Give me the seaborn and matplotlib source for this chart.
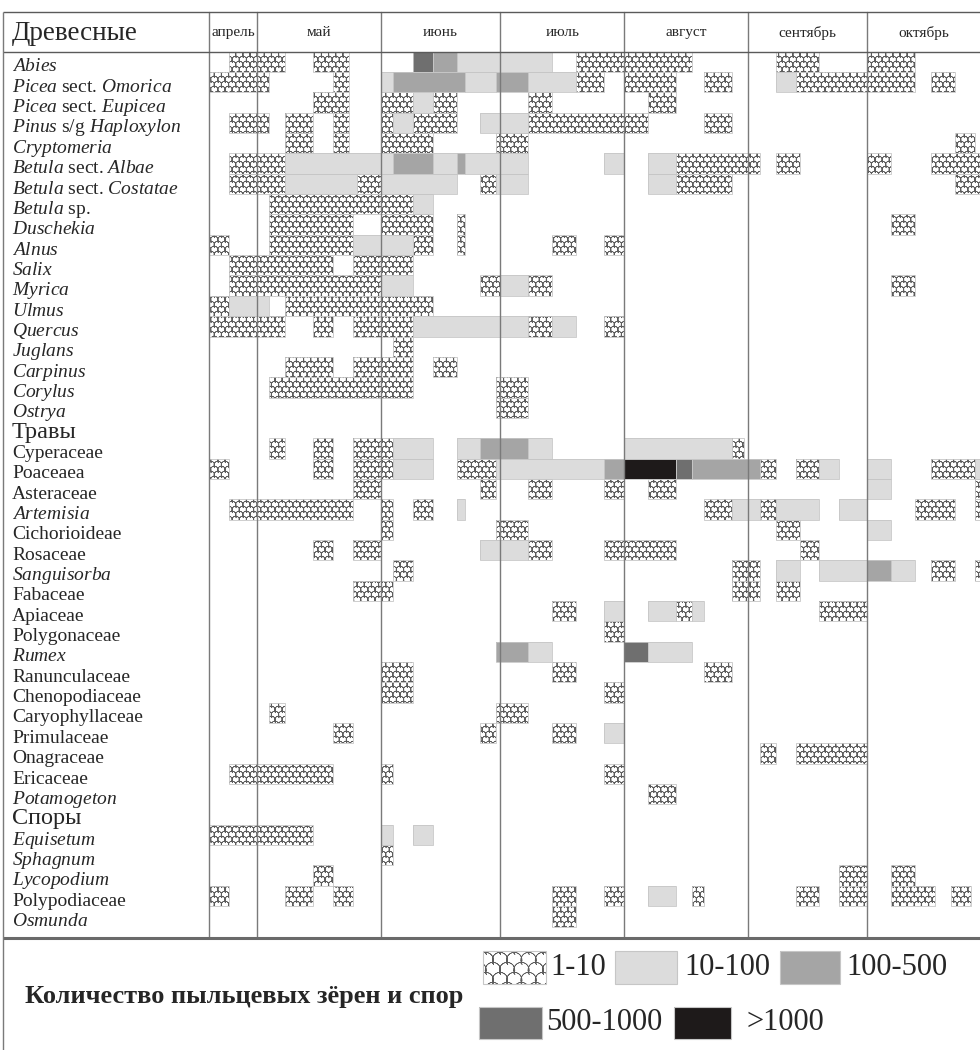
import numpy as np
import pandas as pd
import matplotlib
matplotlib.use("Agg")
import matplotlib.pyplot as plt
import matplotlib.hatch as mhatch
from matplotlib.path import Path
from matplotlib.colors import ListedColormap
from matplotlib.patches import Rectangle
from matplotlib.transforms import blended_transform_factory
import seaborn as sns

# ---------------------------------------------------------------- data
# x axis: days counted from 19 April (first day shown)
MONTHS = ["апрель", "май", "июнь", "июль", "август", "сентябрь", "октябрь"]
MONTH_LEN = [12, 31, 30, 31, 31, 30, 31]
N_DAYS = 194
X_END = 193.3

HEAD_TREES = "Древесные"
HEAD_HERBS = "Травы"
HEAD_SPORES = "Споры"

CLASS_LABELS = ["1-10", "10-100", "100-500", "500-1000", ">1000"]
LEGEND_TITLE = "Количество пыльцевых зёрен и спор"

# pollen class per period: 1 = 1-10, 2 = 10-100, 3 = 100-500, 4 = 500-1000, 5 = >1000
TREES = [r"$\mathit{Abies}$", r"$\mathit{Picea}$ sect. $\mathit{Omorica}$",
         r"$\mathit{Picea}$ sect. $\mathit{Eupicea}$", r"$\mathit{Pinus}$ s/g $\mathit{Haploxylon}$",
         r"$\mathit{Cryptomeria}$", r"$\mathit{Betula}$ sect. $\mathit{Albae}$",
         r"$\mathit{Betula}$ sect. $\mathit{Costatae}$", r"$\mathit{Betula}$ sp.",
         r"$\mathit{Duschekia}$", r"$\mathit{Alnus}$", r"$\mathit{Salix}$", r"$\mathit{Myrica}$",
         r"$\mathit{Ulmus}$", r"$\mathit{Quercus}$", r"$\mathit{Juglans}$", r"$\mathit{Carpinus}$",
         r"$\mathit{Corylus}$", r"$\mathit{Ostrya}$"]
TREE_SEGS = [
    [(5, 19, 1), (26, 35, 1), (51, 56, 4), (56, 62, 3), (62, 86, 2), (92, 121, 1), (142, 153, 1), (165, 177, 1)],
    [(0, 15, 1), (31, 35, 1), (43, 46, 2), (46, 64, 3), (64, 72, 2), (72, 80, 3), (80, 92, 2), (92, 99, 1),
     (104, 117, 1), (124, 131, 1), (142, 147, 2), (147, 177, 1), (181, 187, 1)],
    [(26, 35, 1), (43, 51, 1), (51, 56, 2), (56, 62, 1), (80, 86, 1), (110, 117, 1)],
    [(5, 15, 1), (19, 26, 1), (31, 35, 1), (43, 46, 1), (46, 51, 2), (51, 62, 1), (68, 80, 2), (80, 110, 1),
     (124, 131, 1)],
    [(19, 26, 1), (31, 35, 1), (43, 56, 1), (72, 80, 1), (187, 192, 1)],
    [(5, 19, 1), (19, 46, 2), (46, 56, 3), (56, 62, 2), (62, 64, 3), (64, 80, 2), (99, 104, 2), (110, 117, 2),
     (117, 138, 1), (142, 148, 1), (165, 171, 1), (181, 194, 1)],
    [(5, 19, 1), (19, 37, 2), (37, 43, 1), (43, 62, 2), (68, 72, 1), (72, 80, 2), (110, 117, 2), (117, 131, 1),
     (187, 194, 1)],
    [(15, 51, 1), (51, 56, 2)],
    [(15, 36, 1), (43, 56, 1), (62, 64, 1), (171, 177, 1)],
    [(0, 5, 1), (15, 36, 1), (36, 51, 2), (51, 56, 1), (62, 64, 1), (86, 92, 1), (99, 104, 1)],
    [(5, 31, 1), (36, 51, 1)],
    [(5, 43, 1), (43, 51, 2), (68, 73, 1), (73, 80, 2), (80, 86, 1), (171, 177, 1)],
    [(0, 5, 1), (5, 15, 2), (19, 56, 1)],
    [(0, 19, 1), (26, 31, 1), (36, 51, 1), (51, 80, 2), (80, 86, 1), (86, 92, 2), (99, 104, 1)],
    [(46, 51, 1)],
    [(19, 31, 1), (36, 51, 1), (56, 62, 1)],
    [(15, 51, 1), (72, 80, 1)],
    [(72, 80, 1)],
]

HERBS = ["Cyperaceae", "Poaceaea", "Asteraceae", r"$\mathit{Artemisia}$", "Cichorioideae", "Rosaceae",
         r"$\mathit{Sanguisorba}$", "Fabaceae", "Apiaceae", "Polygonaceae", r"$\mathit{Rumex}$",
         "Ranunculaceae", "Chenopodiaceae", "Caryophyllaceae", "Primulaceae", "Onagraceae", "Ericaceae",
         r"$\mathit{Potamogeton}$"]
HERB_SEGS = [
    [(15, 19, 1), (26, 31, 1), (36, 46, 1), (46, 56, 2), (62, 68, 2), (68, 80, 3), (80, 86, 2), (104, 131, 2),
     (131, 134, 1)],
    [(0, 5, 1), (26, 31, 1), (36, 46, 1), (46, 56, 2), (62, 72, 1), (72, 99, 2), (99, 104, 3), (104, 117, 5),
     (117, 121, 4), (121, 138, 3), (138, 142, 1), (147, 153, 1), (153, 158, 2), (165, 171, 2), (181, 192, 1),
     (192, 194, 2)],
    [(36, 43, 1), (68, 72, 1), (80, 86, 1), (99, 104, 1), (110, 117, 1), (165, 171, 2), (192, 194, 1)],
    [(5, 36, 1), (43, 46, 1), (51, 56, 1), (62, 64, 2), (124, 131, 1), (131, 138, 2), (138, 142, 1),
     (142, 153, 2), (158, 165, 2), (177, 187, 1), (192, 194, 1)],
    [(43, 46, 1), (72, 80, 1), (142, 148, 1), (165, 171, 2)],
    [(26, 31, 1), (36, 43, 1), (68, 80, 2), (80, 86, 1), (99, 117, 1), (148, 153, 1)],
    [(46, 51, 1), (131, 138, 1), (142, 148, 2), (153, 165, 2), (165, 171, 3), (171, 177, 2), (181, 187, 1),
     (192, 194, 1)],
    [(36, 46, 1), (131, 138, 1), (142, 148, 1)],
    [(86, 92, 1), (99, 104, 2), (110, 117, 2), (117, 121, 1), (121, 124, 2), (153, 165, 1)],
    [(99, 104, 1)],
    [(72, 80, 3), (80, 86, 2), (104, 110, 4), (110, 121, 2)],
    [(43, 51, 1), (86, 92, 1), (124, 131, 1)],
    [(43, 51, 1), (99, 104, 1)],
    [(15, 19, 1), (72, 80, 1)],
    [(31, 36, 1), (68, 72, 1), (86, 92, 1), (99, 104, 2)],
    [(138, 142, 1), (147, 165, 1)],
    [(5, 31, 1), (43, 46, 1), (99, 104, 1)],
    [(110, 117, 1)],
]

SPORES = [r"$\mathit{Equisetum}$", r"$\mathit{Sphagnum}$", r"$\mathit{Lycopodium}$", "Polypodiaceae",
          r"$\mathit{Osmunda}$"]
SPORE_SEGS = [
    [(0, 26, 1), (43, 46, 2), (51, 56, 2)],
    [(43, 46, 1)],
    [(26, 31, 1), (158, 165, 1), (171, 177, 1)],
    [(0, 5, 1), (19, 26, 1), (31, 36, 1), (86, 92, 1), (99, 104, 1), (110, 117, 2), (121, 124, 1),
     (147, 153, 1), (158, 165, 1), (171, 182, 1), (186, 191, 1)],
    [(86, 92, 1)],
]

# ---------------------------------------------------------------- style
GRAYS = ["#dcdcdc", "#a5a5a5", "#6f6f6f", "#1e1a1a"]
HATCH_C = "#5c5c5c"
EDGE_C = "#c6c6c6"
LINE_C = "#7a7a7a"

sns.set_style("white")
plt.rcParams.update({
    "font.family": ["Liberation Serif", "DejaVu Serif"],
    "mathtext.fontset": "custom",
    "mathtext.rm": "Liberation Serif",
    "mathtext.it": "Liberation Serif:italic",
    "mathtext.bf": "Liberation Serif:bold",
    "hatch.linewidth": 0.45,
    "hatch.color": HATCH_C,
})


class ScaleHatch(mhatch.HatchPatternBase):
    """Fish-scale arcs in staggered rows, selected with the 'O' hatch symbol.

    Each arc is traced forward and back over the same points, so the
    filled area is empty and only the stroke shows.
    """
    n_arc = 12

    def __init__(self, hatch, density):
        k = hatch.count("O")
        self.cols = 7 * k
        self.rows = 10 * k
        self.num_vertices = 0 if k == 0 else (self.cols + 2) * (self.rows + 2) * self.n_arc * 2

    def set_vertices_and_codes(self, vertices, codes):
        w = 1.0 / self.cols
        h = 1.0 / self.rows
        r = 0.54 * w
        t = np.linspace(np.radians(-28), np.radians(208), self.n_arc)
        arc = np.column_stack([r * np.cos(t), r * np.sin(t)])
        arc = np.vstack([arc, arc[::-1]])
        n = len(arc)
        k = 0
        for j in range(-1, self.rows + 1):
            shift = 0.5 * w * (j % 2)
            for i in range(-1, self.cols + 1):
                vertices[k:k + n] = arc + (i * w + shift, j * h)
                codes[k] = Path.MOVETO
                codes[k + 1:k + n] = Path.LINETO
                k += n


mhatch._hatch_types = [t for t in mhatch._hatch_types if t is not mhatch.LargeCircles] + [ScaleHatch]

# ---------------------------------------------------------------- table of rows
row_labels, row_segs, row_head = [], [], []
for head, names, segs in [(None, TREES, TREE_SEGS), (HEAD_HERBS, HERBS, HERB_SEGS),
                          (HEAD_SPORES, SPORES, SPORE_SEGS)]:
    if head:
        row_labels.append(head)
        row_segs.append([])
        row_head.append(True)
    for name, s in zip(names, segs):
        row_labels.append(name)
        row_segs.append(s)
        row_head.append(False)
n_rows = len(row_labels)

level = np.zeros((n_rows, N_DAYS), dtype=int)
for r, segs in enumerate(row_segs):
    for a, b, v in segs:
        level[r, a:b] = v
level_df = pd.DataFrame(level, index=range(n_rows), columns=range(N_DAYS))

# ---------------------------------------------------------------- figure
W, H = 980, 1050
LEFT, TOP, BOTTOM = 209.3, 51.7, 936.7
PX_DAY = 3.988
fig = plt.figure(figsize=(W / 100, H / 100), dpi=100)
ax = fig.add_axes([LEFT / W, 1 - BOTTOM / H, X_END * PX_DAY / W, (BOTTOM - TOP) / H])

sns.heatmap(level_df, ax=ax, mask=level < 2, cmap=ListedColormap(GRAYS), vmin=1.5, vmax=5.5,
            cbar=False, xticklabels=False, yticklabels=False)
ax.set_xlim(0, X_END)
ax.set_ylim(n_rows + 0.5, 0)
ax.set_xlabel("")
ax.set_ylabel("")

# hatched 1-10 cells
for r in range(n_rows):
    edges = np.flatnonzero(np.diff(np.r_[0, (level[r] == 1).astype(int), 0]))
    starts, ends = edges[0::2], edges[1::2]
    if len(starts):
        ax.barh(np.full(len(starts), r + 0.5), ends - starts, left=starts, height=1.0,
                color="white", edgecolor=HATCH_C, linewidth=0, hatch="OO", zorder=2)

# thin outlines of each recorded period
for r, segs in enumerate(row_segs):
    for a, b, v in segs:
        ax.barh(r + 0.5, b - a, left=a, height=1.0, fill=False, edgecolor=EDGE_C,
                linewidth=0.6, zorder=3)

# month separators and names
bounds = np.r_[0, np.cumsum(MONTH_LEN)]
head_top = 11.7
ymax = 1 + (TOP - head_top) / (BOTTOM - TOP)
for x in bounds[:-1]:
    ax.axvline(x, 0, ymax, color=LINE_C, lw=1.0, clip_on=False, zorder=6)
tr_head = blended_transform_factory(ax.transData, ax.transAxes)
y_month = 1 + (TOP - 32.5) / (BOTTOM - TOP)
for i, m in enumerate(MONTHS):
    xc = (bounds[i] + min(bounds[i + 1], X_END)) / 2
    ax.text(xc, y_month, m, transform=tr_head, ha="center", va="center", fontsize=11, clip_on=False)

# row labels
tr_lab = blended_transform_factory(fig.transFigure, ax.transData)
for r, (lab, is_head) in enumerate(zip(row_labels, row_head)):
    ax.text(12 / W, r + 0.97, lab, transform=tr_lab, ha="left", va="baseline",
            fontsize=17.5 if is_head else 14, clip_on=False)

# ---------------------------------------------------------------- frame and legend
ov = fig.add_axes([0, 0, 1, 1], facecolor="none")
ov.set_xlim(0, W)
ov.set_ylim(H, 0)
ov.axis("off")
ov.text(12, 40, HEAD_TREES, fontsize=19.5, ha="left", va="baseline")
ov.hlines([head_top, TOP], 2.7, W, color="#5a5a5a", lw=1.0)
ov.hlines(938.0, 2.7, W, color="#6a6a6a", lw=2.2)
ov.vlines(2.7, head_top, H, color=LINE_C, lw=1.0)

ov.text(25, 996, LEGEND_TITLE, fontsize=19, fontweight="bold", ha="left", va="center")
sw_x = [482.7, 615.0, 780.0, 479.3, 674.3]
sw_w = [63.3, 62.3, 60.0, 62.4, 56.7]
sw_y = [951.3, 951.3, 951.3, 1007.3, 1007.3]
sw_h = [32.4, 32.4, 32.4, 31.4, 31.4]
tx_x = [550, 684, 846, 546, 746]
fills = ["white"] + GRAYS
for k, lab in enumerate(CLASS_LABELS):
    if k == 0:
        ov.add_patch(Rectangle((sw_x[k], sw_y[k]), sw_w[k], sw_h[k], facecolor="white",
                               edgecolor=HATCH_C, linewidth=0, hatch="O"))
    else:
        ov.add_patch(Rectangle((sw_x[k], sw_y[k]), sw_w[k], sw_h[k], facecolor=fills[k],
                               edgecolor="none"))
    ov.add_patch(Rectangle((sw_x[k], sw_y[k]), sw_w[k], sw_h[k], fill=False, edgecolor=EDGE_C, lw=0.8))
    ov.text(tx_x[k], sw_y[k] + sw_h[k] / 2, lab, fontsize=22, ha="left", va="center")

fig.savefig("out.png", dpi=100)
